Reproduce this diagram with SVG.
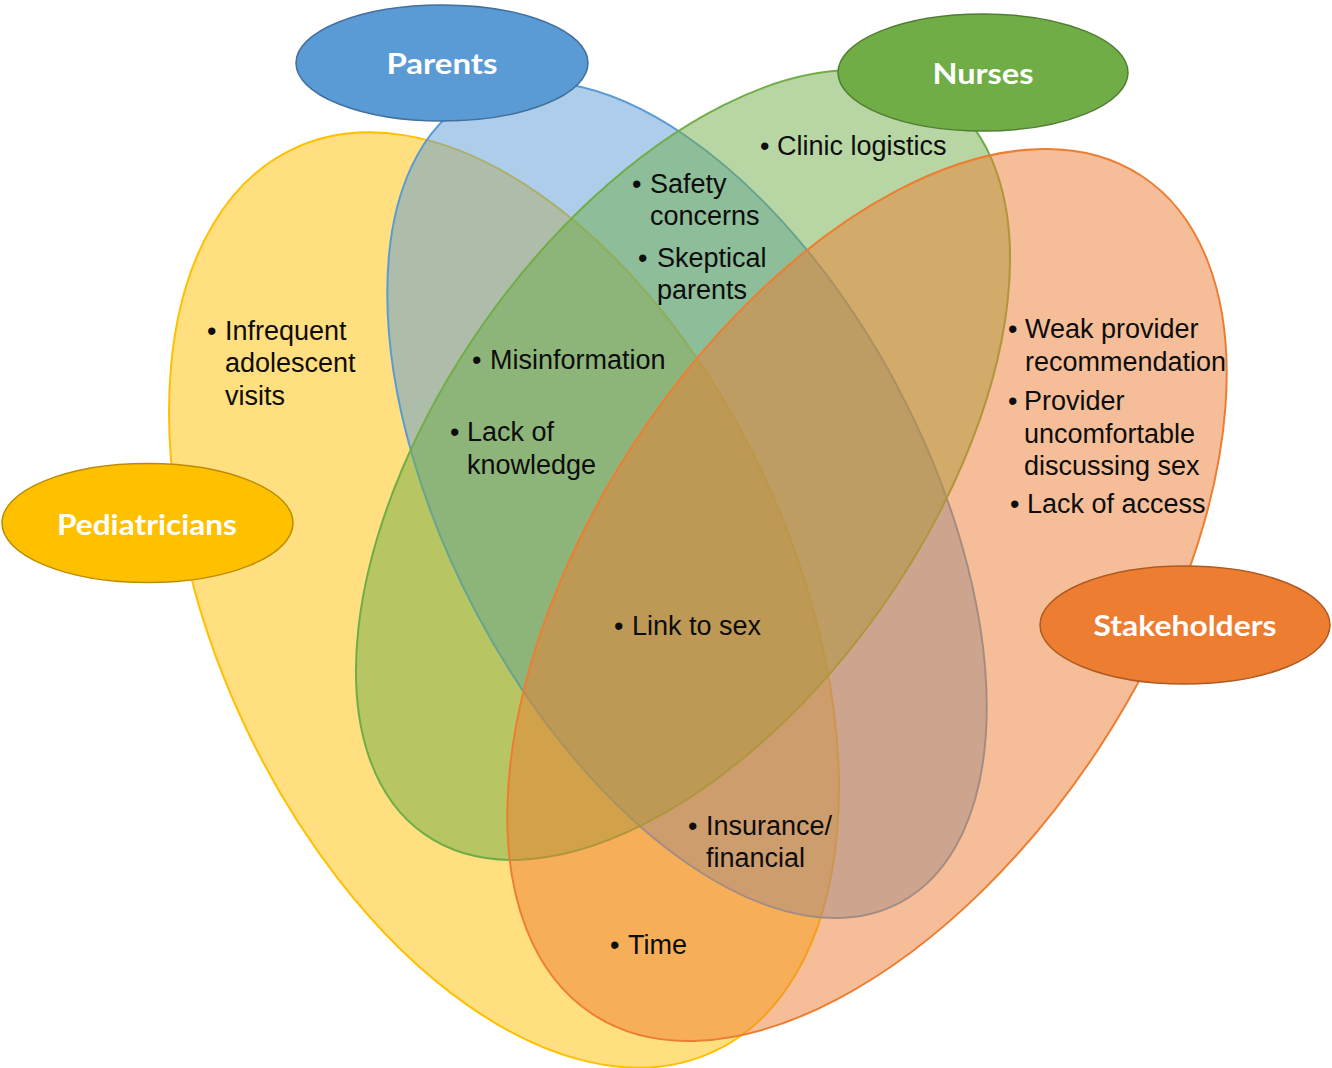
<svg xmlns="http://www.w3.org/2000/svg" width="1332" height="1068" viewBox="0 0 1332 1068">
<style>
.set{stroke-width:2}
.t{font-family:"Liberation Sans",Arial,sans-serif;font-size:27px;fill:#0d0d0d}
.lbl{font-family:Lato,"Open Sans",sans-serif;font-weight:bold;font-size:29px;fill:#ffffff;text-anchor:middle}
</style>
<rect width="1332" height="1068" fill="#ffffff"/>
<g id="pediatricians">
<ellipse class="set" cx="504" cy="600" rx="288" ry="498" transform="rotate(-24.9 504 600)" fill="#FFC000" fill-opacity="0.5" stroke="#FFC000"/>
<ellipse cx="147.5" cy="523" rx="145.5" ry="59.5" fill="#FFC000" stroke="#BC8C00" stroke-width="1.5"/>
<text class="lbl" x="147" y="535" textLength="180" lengthAdjust="spacingAndGlyphs">Pediatricians</text>
</g>
<g id="parents">
<ellipse class="set" cx="687" cy="500" rx="239" ry="455.5" transform="rotate(-27.8 687 500)" fill="#5B9BD5" fill-opacity="0.5" stroke="#5B9BD5"/>
<ellipse cx="442" cy="63" rx="146" ry="58" fill="#5B9BD5" stroke="#41719C" stroke-width="1.5"/>
<text class="lbl" x="442" y="74" textLength="111" lengthAdjust="spacingAndGlyphs">Parents</text>
</g>
<g id="nurses">
<ellipse class="set" cx="683" cy="465" rx="244.5" ry="450.7" transform="rotate(35 683 465)" fill="#70AD47" fill-opacity="0.5" stroke="#70AD47"/>
<ellipse cx="983" cy="72.5" rx="145" ry="58.5" fill="#70AD47" stroke="#507E32" stroke-width="1.5"/>
<text class="lbl" x="983" y="84" textLength="101" lengthAdjust="spacingAndGlyphs">Nurses</text>
</g>
<g id="stakeholders">
<ellipse class="set" cx="867" cy="595" rx="278" ry="501" transform="rotate(33.2 867 595)" fill="#ED7D31" fill-opacity="0.5" stroke="#ED7D31"/>
<ellipse cx="1185" cy="625" rx="145" ry="59" fill="#ED7D31" stroke="#AE5A21" stroke-width="1.5"/>
<text class="lbl" x="1185" y="636" textLength="183" lengthAdjust="spacingAndGlyphs">Stakeholders</text>
</g>
<g id="connectors"/>
<g id="items">
<g id="item-clinic"><text class="t" x="760" y="155">•</text><text class="t" x="777" y="155">Clinic logistics</text></g>
<g id="item-safety"><text class="t" x="632" y="193">•</text><text class="t"><tspan x="650" y="193">Safety</tspan><tspan x="650" y="225">concerns</tspan></text></g>
<g id="item-skeptical"><text class="t" x="638" y="267">•</text><text class="t"><tspan x="657" y="267">Skeptical</tspan><tspan x="657" y="299">parents</tspan></text></g>
<g id="item-misinformation"><text class="t" x="472" y="369">•</text><text class="t" x="490" y="369">Misinformation</text></g>
<g id="item-lack-knowledge"><text class="t" x="450" y="441">•</text><text class="t"><tspan x="467" y="441">Lack of</tspan><tspan x="467" y="474">knowledge</tspan></text></g>
<g id="item-infrequent"><text class="t" x="207" y="340">•</text><text class="t"><tspan x="225" y="340">Infrequent</tspan><tspan x="225" y="372">adolescent</tspan><tspan x="225" y="405">visits</tspan></text></g>
<g id="item-link"><text class="t" x="614" y="635">•</text><text class="t" x="632" y="635">Link to sex</text></g>
<g id="item-insurance"><text class="t" x="688" y="835">•</text><text class="t"><tspan x="706" y="835">Insurance/</tspan><tspan x="706" y="867">financial</tspan></text></g>
<g id="item-time"><text class="t" x="610" y="954">•</text><text class="t" x="628" y="954">Time</text></g>
<g id="item-weak"><text class="t" x="1008" y="338">•</text><text class="t"><tspan x="1025" y="338">Weak provider</tspan><tspan x="1025" y="371">recommendation</tspan></text></g>
<g id="item-provider"><text class="t" x="1008" y="410">•</text><text class="t"><tspan x="1024" y="410">Provider</tspan><tspan x="1024" y="443">uncomfortable</tspan><tspan x="1024" y="475">discussing sex</tspan></text></g>
<g id="item-access"><text class="t" x="1010" y="513">•</text><text class="t" x="1027" y="513">Lack of access</text></g>
</g>
</svg>
